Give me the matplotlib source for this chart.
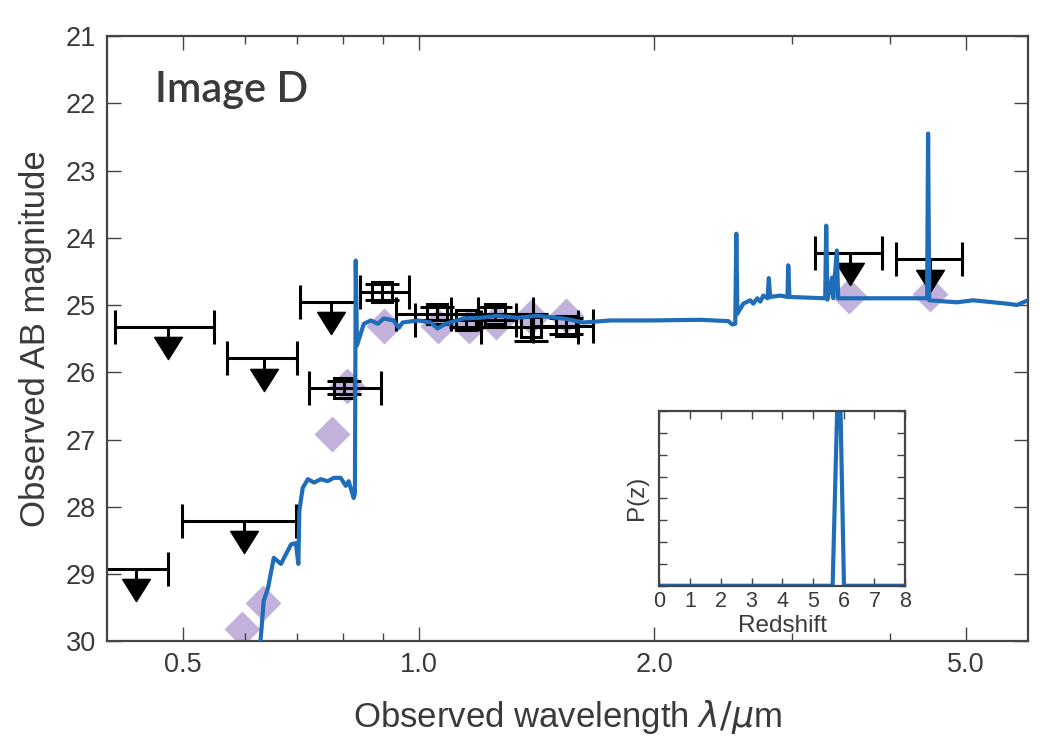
import numpy as np
import matplotlib
matplotlib.use("Agg")
from matplotlib import pyplot as plt
from matplotlib.ticker import FixedLocator, FixedFormatter, NullFormatter

plt.rcParams["font.family"] = ["Liberation Sans", "DejaVu Sans"]
plt.rcParams["mathtext.fontset"] = "dejavusans"

TXT = "#3a3a3a"
SPINE = "#454545"
BLUE = "#1f6db8"
LAV = "#9a80c4"

# model spectrum (wavelength in micron, AB mag)
spec_wl = [0.625, 0.634, 0.642, 0.653, 0.667, 0.687, 0.697, 0.702, 0.704, 0.711,
           0.722, 0.735, 0.750, 0.765, 0.779, 0.795, 0.807, 0.814, 0.826, 0.829,
           0.831, 0.834, 0.843, 0.851, 0.869, 0.887, 0.902, 0.929, 0.943, 0.954,
           0.997, 1.036, 1.057, 1.082, 1.141, 1.200, 1.261, 1.337, 1.419, 1.531,
           1.623, 1.758, 1.977, 2.289, 2.486, 2.515, 2.537, 2.545, 2.553, 2.598,
           2.652, 2.675, 2.707, 2.731, 2.755, 2.790, 2.800, 2.812, 2.895, 2.958,
           2.965, 2.975, 3.134, 3.305, 3.315, 3.328, 3.374, 3.384, 3.420, 3.434,
           3.805, 4.460, 4.473, 4.488, 4.870, 5.105, 5.640, 5.808, 6.000]
spec_mag = [30.3, 29.40, 29.21, 28.76, 28.85, 28.56, 28.54, 28.85, 28.06, 27.72,
            27.59, 27.64, 27.59, 27.62, 27.57, 27.57, 27.69, 27.62, 27.87, 27.80,
            24.34, 25.60, 25.43, 25.28, 25.23, 25.28, 25.20, 25.23, 25.34, 25.26,
            25.23, 25.26, 25.35, 25.28, 25.20, 25.19, 25.16, 25.19, 25.16, 25.20,
            25.26, 25.23, 25.23, 25.22, 25.24, 25.29, 25.28, 23.94, 25.13, 24.98,
            24.93, 24.98, 24.90, 24.95, 24.86, 24.90, 24.60, 24.88, 24.86, 24.88,
            24.41, 24.88, 24.89, 24.90, 23.82, 24.92, 24.59, 24.90, 24.19, 24.90,
            24.90, 24.90, 22.45, 24.93, 24.96, 24.93, 24.98, 25.00, 24.93]

# model photometry (diamonds)
mod_wl = [0.594, 0.632, 0.775, 0.809, 0.902, 1.057, 1.16, 1.254, 1.393, 1.54, 3.55, 4.50]
mod_mag = [29.82, 29.43, 26.92, 26.20, 25.31, 25.31, 25.31, 25.25, 25.18, 25.17, 24.87, 24.83]

# detections
det_wl = [0.802, 0.899, 1.055, 1.150, 1.250, 1.392, 1.540]
det_lo = [0.724, 0.841, 0.935, 0.990, 1.100, 1.200, 1.400]
det_hi = [0.894, 0.971, 1.190, 1.330, 1.400, 1.600, 1.672]
det_mag = [26.23, 24.81, 25.13, 25.23, 25.13, 25.33, 25.31]
det_err = [0.10, 0.12, 0.10, 0.10, 0.10, 0.20, 0.12]

# upper limits
lim_wl = [0.436, 0.479, 0.598, 0.634, 0.772, 3.56, 4.50]
lim_lo = [0.396, 0.410, 0.499, 0.569, 0.705, 3.21, 4.07]
lim_hi = [0.479, 0.547, 0.697, 0.699, 0.829, 3.91, 4.94]
lim_mag = [28.92, 25.32, 28.21, 25.79, 24.95, 24.22, 24.32]

# photometric redshift PDF
pz_z = [0.0, 5.0, 5.64, 5.85, 6.01, 6.5, 8.0]
pz_p = [0.0, 0.0, 0.0, 1.14, 0.0, 0.0, 0.0]

fig = plt.figure(figsize=(10.5, 7.5), dpi=100)
ax = fig.add_axes([0.102, 0.145, 0.877, 0.807])

ax.plot(mod_wl, mod_mag, ls="none", marker="D", ms=18.5, mfc=LAV, mec="none",
        alpha=0.6, zorder=1)

ew = 2.2
cap = 12
ax.errorbar(det_wl, det_mag,
            xerr=[np.array(det_wl) - det_lo, np.array(det_hi) - det_wl],
            yerr=det_err, fmt="s", ms=14.5, mfc="none", mec="black", mew=ew,
            ecolor="black", elinewidth=ew, capsize=cap, capthick=ew, zorder=2)

ax.errorbar(lim_wl, lim_mag,
            xerr=[np.array(lim_wl) - lim_lo, np.array(lim_hi) - lim_wl],
            fmt="none", ecolor="black", elinewidth=ew, capsize=cap, capthick=ew,
            zorder=2)
lim_mag_arr = np.array(lim_mag)
ax.vlines(lim_wl, lim_mag_arr, lim_mag_arr + 0.17, color="black", lw=ew, zorder=2)
tri = [(-1, 0.8), (1, 0.8), (0, -0.8), (-1, 0.8)]
ax.plot(lim_wl, lim_mag_arr + 0.32, ls="none", marker=tri, ms=20,
        color="black", zorder=2)

ax.plot(spec_wl, spec_mag, color=BLUE, lw=3.0, zorder=3)

ax.set_xscale("log")
ax.set_xlim(0.40, 6.0)
ax.set_ylim(30, 21)
ax.xaxis.set_major_locator(FixedLocator([0.5, 1.0, 2.0, 5.0]))
ax.xaxis.set_major_formatter(FixedFormatter(["0.5", "1.0", "2.0", "5.0"]))
ax.xaxis.set_minor_locator(FixedLocator([0.6, 0.7, 0.8, 0.9, 3.0, 4.0]))
ax.xaxis.set_minor_formatter(NullFormatter())
ax.set_yticks(range(21, 31))
ax.tick_params(which="both", direction="in", top=True, right=True,
               colors=SPINE, labelcolor=TXT, labelsize=19.5, pad=8)
ax.tick_params(which="major", length=10, width=1)
ax.tick_params(which="minor", length=6, width=1)
for s in ax.spines.values():
    s.set_color(SPINE)
    s.set_linewidth(1.6)

ax.set_xlabel(r"Observed wavelength $\lambda/\mu$m", fontsize=25, color=TXT, labelpad=14)
ax.set_ylabel("Observed AB magnitude", fontsize=25, color=TXT, labelpad=10)
ax.text(0.052, 0.91, "Image D", transform=ax.transAxes, fontsize=30,
        family=["Lato", "DejaVu Sans"], fontweight="semibold", color=TXT,
        ha="left", va="center")

# inset: P(z)
axin = fig.add_axes([0.628, 0.219, 0.234, 0.233])
axin.plot(pz_z, pz_p, color=BLUE, lw=3.0)
axin.set_xlim(0, 8)
axin.set_ylim(0, 0.8)
axin.set_xticks(range(0, 9))
axin.set_yticks(np.arange(0, 0.81, 0.1))
axin.set_yticklabels([])
axin.tick_params(direction="in", top=True, right=True, length=6, width=1,
                 colors=SPINE, labelcolor=TXT, labelsize=15.5, pad=4)
for s in axin.spines.values():
    s.set_color(SPINE)
    s.set_linewidth(1.6)
axin.set_xlabel("Redshift", fontsize=17.5, color=TXT, labelpad=2)
axin.set_ylabel("P(z)", fontsize=17.5, color=TXT, labelpad=4)

fig.savefig("out.png", dpi=100, facecolor="white")
